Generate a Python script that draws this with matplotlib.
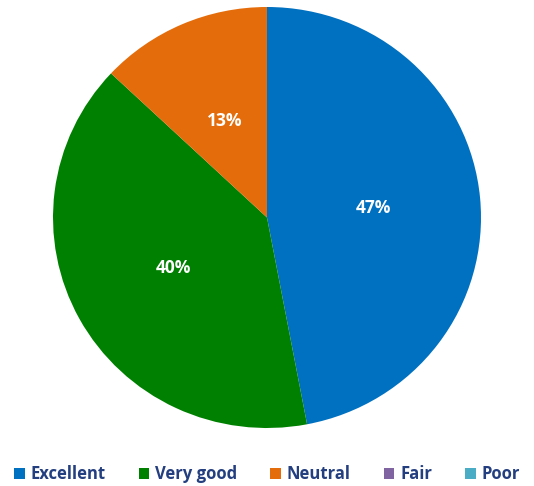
import matplotlib
matplotlib.use("Agg")
import matplotlib.pyplot as plt
from matplotlib.patches import Patch

categories = ["Excellent", "Very good", "Neutral", "Fair", "Poor"]
values = [47, 40, 13, 0, 0]
colors = ["#0070C0", "#008000", "#E46C0A", "#8064A2", "#4BACC6"]

plt.rcParams['font.family'] = ['Open Sans', 'DejaVu Sans']

W, H = 534, 486
fig = plt.figure(figsize=(W/100, H/100), dpi=100)
cx, cy, rx, ry = 267, 217.5, 214, 210.5
ax = fig.add_axes([(cx - rx)/W, (H - cy - ry)/H, 2*rx/W, 2*ry/H])

wedges, texts, autotexts = ax.pie(
    values, colors=colors, startangle=90, counterclock=False,
    autopct=lambda p: f"{p:.0f}%" if p > 0.5 else "",
    pctdistance=0.5, wedgeprops=dict(linewidth=0),
    textprops=dict(color="white", fontsize=12.5, fontweight="bold"))
ax.set_xlim(-1, 1)
ax.set_ylim(-1, 1)
ax.set_aspect("auto")
ax.axis("off")

handles = [Patch(facecolor=c, edgecolor="none") for c in colors]
leg = fig.legend(handles, categories, loc="center", bbox_to_anchor=(0.5, (H - 474)/H),
                 ncol=5, frameon=False, handlelength=0.62, handleheight=0.62,
                 handletextpad=0.35, columnspacing=2.0,
                 prop=dict(size=12, weight="bold"))
for t in leg.get_texts():
    t.set_color("#243F7F")

fig.savefig("out.png", dpi=100)
